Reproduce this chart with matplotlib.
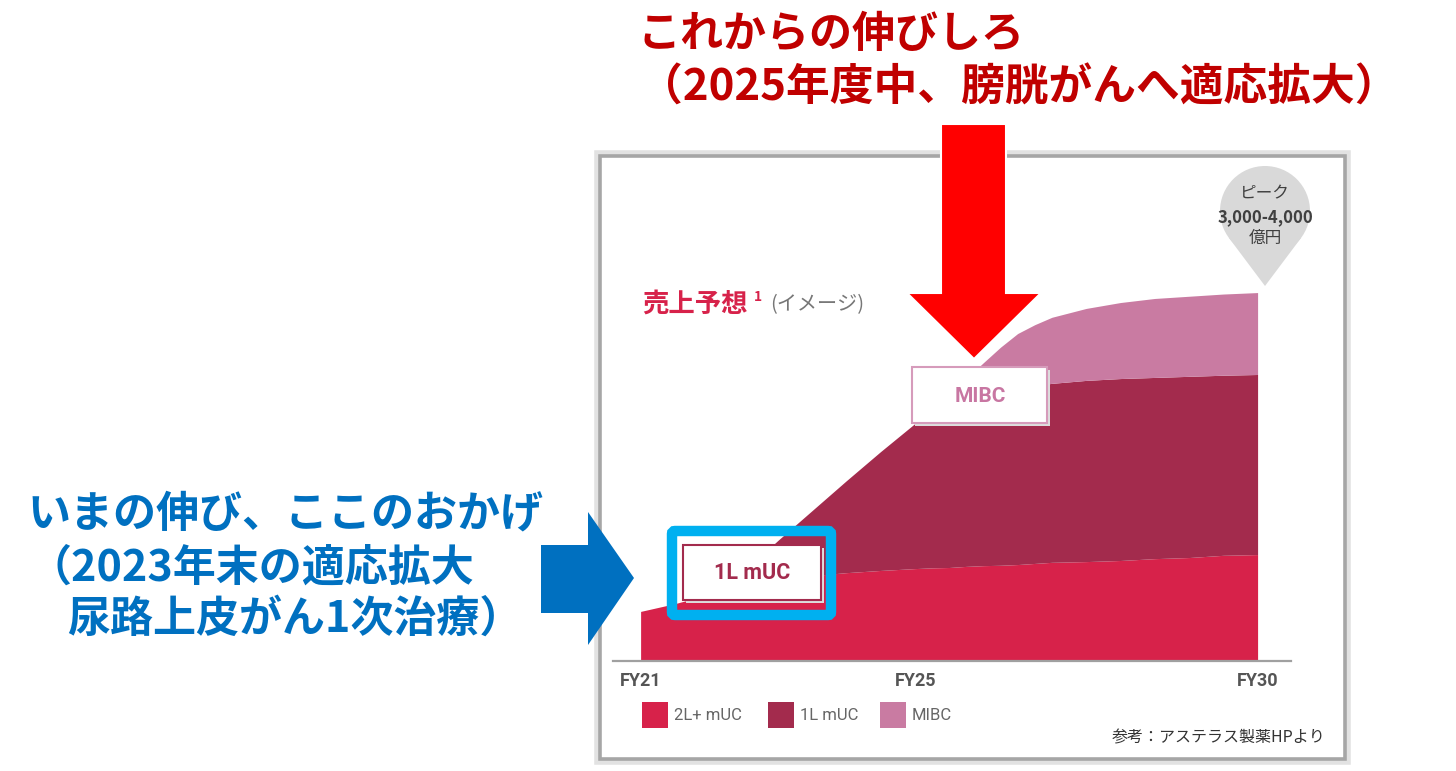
import matplotlib
matplotlib.use("Agg")
import matplotlib.pyplot as plt
from matplotlib.patches import Rectangle, Polygon, Circle, FancyBboxPatch

plt.rcParams['font.family'] = ['Noto Sans CJK JP', 'DejaVu Sans']

# ---- data (share of peak sales) ----
years = [21, 21.5, 22, 22.5, 23, 23.5, 24, 24.5, 25, 25.25, 25.5, 25.75,
         26, 26.25, 26.5, 26.75, 27, 27.5, 28, 28.5, 29, 29.5, 30]
sales_2l_muc = [13.3, 15.4, 17.9, 20.1, 21.7, 23.0, 23.8, 24.4, 24.9, 25.1, 25.2, 25.5,
                25.7, 25.8, 26.0, 26.3, 26.6, 26.8, 27.1, 27.6, 27.9, 28.5, 28.7]
sales_1l_muc = [0.0, 0.0, 0.0, 3.8, 10.8, 17.6, 24.9, 32.2, 39.3, 42.0, 44.2, 45.5,
                46.6, 47.4, 48.0, 48.2, 48.5, 49.1, 49.3, 49.1, 49.1, 48.8, 48.8]
sales_mibc = [0.0, 0.0, 0.0, 0.0, 0.0, 0.0, 0.0, 0.0, 0.0, 0.8, 2.7, 5.4,
              8.4, 11.7, 14.6, 16.5, 17.9, 19.5, 20.6, 21.4, 21.7, 22.0, 22.2]
series_names = ["2L+ mUC", "1L mUC", "MIBC"]
series_colors = ["#D7224A", "#A32B4D", "#C97BA2"]
tick_years = [21, 25, 30]
tick_labels = ["FY21", "FY25", "FY30"]

W, H = 1456, 771
fig = plt.figure(figsize=(W / 100, H / 100), dpi=100)
fig.patch.set_facecolor("white")

# overlay axes in pixel coordinates (y downwards)
ov = fig.add_axes([0, 0, 1, 1], zorder=5)
ov.set_xlim(0, W)
ov.set_ylim(H, 0)
ov.axis("off")
ov.patch.set_alpha(0)

# main chart
ax = fig.add_axes([613 / W, 1 - 661 / H, (1291 - 613) / W, (661 - 165) / H], zorder=3)
ax.stackplot(years, sales_2l_muc, sales_1l_muc, sales_mibc,
             colors=series_colors, linewidth=0)
ax.set_xlim(20.59, 30.48)
ax.set_ylim(0, 134.4)
ax.patch.set_alpha(0)
for s in ["top", "left", "right"]:
    ax.spines[s].set_visible(False)
ax.spines["bottom"].set_color("#a0a0a0")
ax.spines["bottom"].set_linewidth(1.6)
ax.set_yticks([])
ax.set_xticks(tick_years)
ax.set_xticklabels(tick_labels, family="Roboto", fontweight="bold",
                   fontsize=13, color="#555555")
ax.tick_params(axis="x", length=0, pad=8)

# chart frame with soft shadow
ov.add_patch(Rectangle((597, 153), 751, 609, fill=False, ec="#e2e2e2", lw=4, zorder=1))
ov.add_patch(Rectangle((600, 156), 745, 603, fill=False, ec="#a6a6a6", lw=2.6, zorder=2))

# title and subtitle of the inner chart
ov.text(642, 304, "売上予想", color="#D7224A", fontsize=19, fontweight="bold",
        ha="left", va="center", zorder=6)
ov.text(754, 297, "1", color="#D7224A", fontsize=10, fontweight="bold",
        ha="left", va="center", zorder=6)
ov.text(770, 305, "(イメージ)", color="#777777", fontsize=14.5,
        ha="left", va="center", zorder=6)

# peak pin
ov.add_patch(Circle((1265, 211), 45, fc="#d9d9d9", ec="none", zorder=6))
ov.add_patch(Polygon([(1229, 238), (1301, 238), (1265, 286)], closed=True,
                     fc="#d9d9d9", ec="none", zorder=6))
ov.text(1265, 194, "ピーク", color="#404040", fontsize=12, ha="center", va="center", zorder=7)
ov.text(1265, 217, "3,000-4,000", color="#404040", fontsize=12, fontweight="bold",
        ha="center", va="center", zorder=7)
ov.text(1265, 238, "億円", color="#404040", fontsize=12, ha="center", va="center", zorder=7)

# label boxes
ov.add_patch(Rectangle((686, 548), 138, 55, fc="#dddddd", ec="none", zorder=6))
ov.add_patch(Rectangle((683, 545), 138, 55, fc="white", ec="#A32B4D", lw=1.5, zorder=7))
ov.text(752, 573, "1L mUC", family="Roboto", fontweight="bold", fontsize=15.5,
        color="#A32B4D", ha="center", va="center", zorder=8)
ov.add_patch(Rectangle((915, 370), 135, 56, fc="#dddddd", ec="none", zorder=6))
ov.add_patch(Rectangle((912, 367), 135, 56, fc="white", ec="#D69BBB", lw=1.5, zorder=7))
ov.text(980, 396, "MIBC", family="Roboto", fontweight="bold", fontsize=15,
        color="#C876A2", ha="center", va="center", zorder=8)

# highlight box around 1L mUC
ov.add_patch(FancyBboxPatch((672, 531), 159, 84, boxstyle="round,pad=0,rounding_size=3",
                            fill=False, ec="#00B0F0", lw=7.5, zorder=9))

# legend
leg_x = [642, 768, 880]
for x0, name, col in zip(leg_x, series_names, series_colors):
    ov.add_patch(Rectangle((x0, 702), 26, 26, fc=col, ec="none", zorder=6))
    ov.text(x0 + 32, 716, name, family="Roboto", fontsize=12, color="#666666",
            ha="left", va="center", zorder=6)

ov.text(1325, 738, "参考：アステラス製薬HPより", fontsize=11.5, color="#333333",
        ha="right", va="center", zorder=6)

# red arrow and heading
ov.add_patch(Polygon([(941, 124), (1006, 124), (1006, 293), (1041, 293), (974, 359),
                      (907, 293), (941, 293)], closed=True, fc="#FF0000", ec="white",
                     lw=1.5, zorder=10))
ov.text(637, 34, "これからの伸びしろ", color="#C00000", fontsize=31, fontweight="bold",
        ha="left", va="center", zorder=10)
ov.text(639, 88, "（2025年度中、膀胱がんへ適応拡大）", color="#C00000", fontsize=31.5,
        fontweight="bold", ha="left", va="center", zorder=10)

# blue arrow and text
ov.add_patch(Polygon([(541, 545), (588, 545), (588, 512), (634, 578), (588, 645),
                      (588, 613), (541, 613)], closed=True, fc="#0070C0", ec="none",
                     zorder=10))
blue_lines = ["いまの伸び、ここのおかげ", "（2023年末の適応拡大", "尿路上皮がん1次治療）"]
for txt, x0, y0 in zip(blue_lines, [27, 28, 67], [513, 568, 619]):
    ov.text(x0, y0, txt, color="#0070C0", fontsize=31, fontweight="bold",
            ha="left", va="center", zorder=10)

fig.savefig("out.png", dpi=100)
